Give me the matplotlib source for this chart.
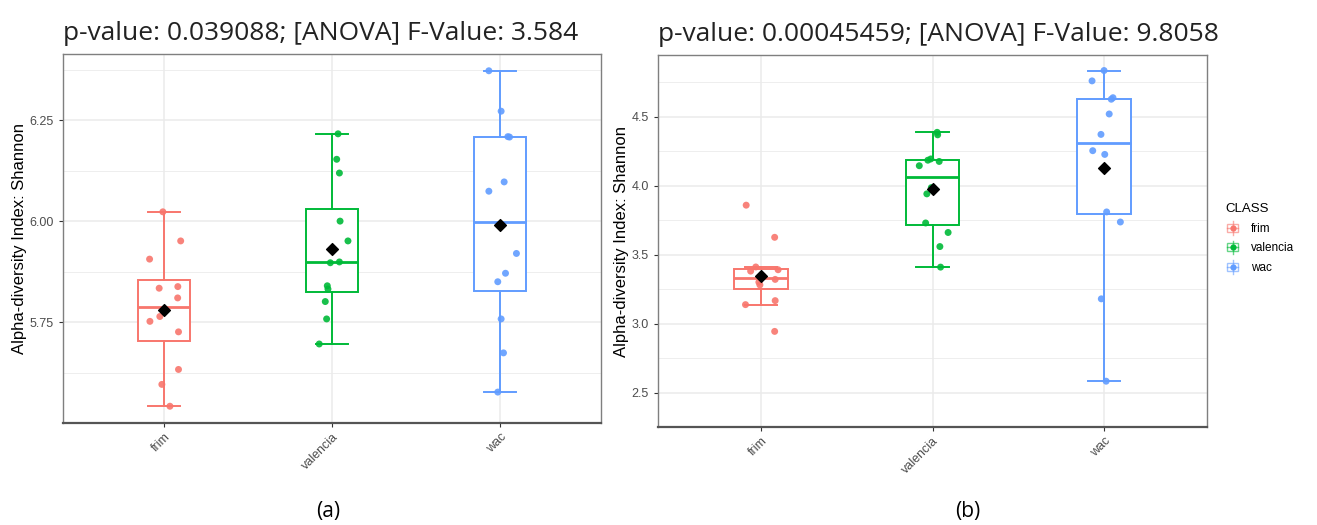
import numpy as np
import matplotlib
matplotlib.use("Agg")
import matplotlib.pyplot as plt
from matplotlib.patches import Rectangle
from matplotlib.lines import Line2D
from matplotlib.legend_handler import HandlerBase

plt.rcParams['font.family'] = ['Liberation Sans', 'DejaVu Sans']

# ---------------- data ----------------
categories = ["frim", "valencia", "wac"]
colors = ["#F8766D", "#00BA38", "#619CFF"]

# panel (a)
frim_a = [6.023, 5.951, 5.906, 5.834, 5.838, 5.810, 5.764, 5.752, 5.726, 5.633, 5.596, 5.542]
valencia_a = [6.216, 6.153, 6.119, 6.000, 5.951, 5.897, 5.899, 5.840, 5.832, 5.801, 5.758, 5.696]
wac_a = [6.372, 6.272, 6.209, 6.208, 6.097, 6.074, 5.920, 5.871, 5.850, 5.758, 5.674, 5.577]

# panel (b)
frim_b = [3.858, 3.625, 3.410, 3.390, 3.380, 3.345, 3.320, 3.300, 3.280, 3.166, 3.137, 2.943]
valencia_b = [4.386, 4.368, 4.193, 4.184, 4.175, 4.144, 3.985, 3.940, 3.729, 3.660, 3.558, 3.409]
wac_b = [4.834, 4.759, 4.637, 4.626, 4.519, 4.371, 4.253, 4.226, 3.809, 3.736, 3.179, 2.582]

# horizontal jitter of the points (category units)
jit_frim_a = [-0.006, 0.10, -0.085, -0.028, 0.083, 0.082, -0.024, -0.083, 0.087, 0.087, -0.012, 0.036]
jit_valencia_a = [0.036, 0.028, 0.044, 0.048, 0.095, -0.01, 0.044, -0.028, -0.024, -0.04, -0.032, -0.076]
jit_wac_a = [-0.067, 0.006, 0.046, 0.056, 0.024, -0.067, 0.097, 0.032, -0.014, 0.006, 0.02, -0.014]
jit_frim_b = [-0.086, 0.08, -0.03, 0.1, -0.06, 0.01, 0.083, -0.012, -0.006, 0.083, -0.09, 0.08]
jit_valencia_b = [0.027, 0.03, -0.01, -0.027, 0.039, -0.077, -0.007, -0.033, -0.04, 0.091, 0.043, 0.047]
jit_wac_b = [0.0, -0.07, 0.052, 0.042, 0.03, -0.018, -0.066, 0.004, 0.015, 0.095, -0.016, 0.012]

title_a = "p-value: 0.039088; [ANOVA] F-Value: 3.584"
title_b = "p-value: 0.00045459; [ANOVA] F-Value: 9.8058"
ylabel = "Alpha-diversity Index: Shannon"
yticks_a = [5.75, 6.00, 6.25]
yticks_b = [2.5, 3.0, 3.5, 4.0, 4.5]
legend_title = "CLASS"

W, H = 1317, 525
fig = plt.figure(figsize=(W / 100, H / 100), dpi=100)

ax_a = fig.add_axes([63 / W, 1 - 423 / H, 538 / W, 369 / H])
ax_b = fig.add_axes([658 / W, 1 - 427 / H, 549 / W, 372 / H])

GRID = "#EBEBEB"
TXT = "#4D4D4D"


def draw_panel(ax, groups, jitters, yticks, fmt, title):
    allv = np.concatenate([np.asarray(g) for g in groups])
    lo, hi = allv.min(), allv.max()
    pad = 0.05 * (hi - lo)

    for i, (g, j, c) in enumerate(zip(groups, jitters, colors)):
        pos = i + 1
        ax.boxplot([g], positions=[pos], widths=0.31, showfliers=False,
                   capwidths=0.19, patch_artist=True,
                   boxprops=dict(facecolor="white", edgecolor=c, linewidth=1.4),
                   medianprops=dict(color=c, linewidth=2.0),
                   whiskerprops=dict(color=c, linewidth=1.4),
                   capprops=dict(color=c, linewidth=1.4), zorder=2)
        ax.scatter(pos + np.asarray(j), g, s=25, color=c, edgecolors="none",
                   alpha=0.9, zorder=3)
        ax.scatter([pos], [np.mean(g)], marker="D", s=36, color="black", zorder=4)

    ax.set_ylim(lo - pad, hi + pad)
    ax.set_xlim(0.4, 3.6)
    ax.set_yticks(yticks)
    ax.set_yticklabels([fmt.format(t) for t in yticks])
    step = yticks[1] - yticks[0]
    minor = [t + step / 2 for t in [yticks[0] - step] + list(yticks)]
    ax.set_yticks(minor, minor=True)
    ax.set_xticks([1, 2, 3])
    ax.set_xticklabels(categories, rotation=45, ha="right", rotation_mode="anchor")
    ax.tick_params(axis="both", which="major", labelsize=9, labelcolor=TXT,
                   color="#333333", length=3, width=0.8)
    ax.tick_params(axis="x", which="major", pad=3)
    ax.tick_params(axis="y", which="minor", length=0)
    ax.grid(True, which="major", color=GRID, linewidth=1.1)
    ax.grid(True, which="minor", axis="y", color=GRID, linewidth=0.6)
    ax.set_axisbelow(True)
    for s in ax.spines.values():
        s.set_color("#7F7F7F")
        s.set_linewidth(1.0)
    ax.spines["bottom"].set_color("#555555")
    ax.spines["bottom"].set_linewidth(1.6)

    ax.set_ylabel(ylabel, fontsize=12, color="black", labelpad=2)
    ax.set_title(title, fontsize=19, loc="left", pad=10, x=0.0,
                 fontfamily=["Open Sans", "DejaVu Sans"], color="#222222")


draw_panel(ax_a, [frim_a, valencia_a, wac_a],
           [jit_frim_a, jit_valencia_a, jit_wac_a], yticks_a, "{:.2f}", title_a)
draw_panel(ax_b, [frim_b, valencia_b, wac_b],
           [jit_frim_b, jit_valencia_b, jit_wac_b], yticks_b, "{:.1f}", title_b)


class BoxHandler(HandlerBase):
    def create_artists(self, legend, orig_handle, xdescent, ydescent,
                       width, height, fontsize, trans):
        c = orig_handle.get_color()
        cx = -xdescent + width / 2
        cy = -ydescent + height / 2
        bw, bh = width * 0.75, height * 0.6
        rect = Rectangle((cx - bw / 2, cy - bh / 2), bw, bh, facecolor="white",
                         edgecolor=c, linewidth=1.0, transform=trans, alpha=0.6)
        vline = Line2D([cx, cx], [cy - height * 0.5, cy + height * 0.5], color=c,
                       linewidth=1.0, transform=trans, alpha=0.6)
        hline = Line2D([cx - bw / 2, cx + bw / 2], [cy, cy], color=c,
                       linewidth=1.0, transform=trans, alpha=0.6)
        dot = Line2D([cx], [cy], marker="o", markersize=3.5, color=c,
                     linestyle="none", transform=trans)
        return [rect, vline, hline, dot]


handles = [Line2D([], [], color=c) for c in colors]
leg = fig.legend(handles, categories, title=legend_title,
                 handler_map={Line2D: BoxHandler()},
                 loc="upper left", bbox_to_anchor=(1225 / W, 1 - 203 / H),
                 frameon=False, fontsize=8.5, title_fontsize=9.5,
                 handlelength=1.3, handleheight=1.4, handletextpad=0.9,
                 labelspacing=0.5, borderaxespad=0, borderpad=0)
leg._legend_box.align = "left"

fig.text(328 / W, 1 - 512 / H, "(a)", ha="center", va="center", fontsize=15,
         fontfamily=["Open Sans", "DejaVu Sans"])
fig.text(968 / W, 1 - 512 / H, "(b)", ha="center", va="center", fontsize=15,
         fontfamily=["Open Sans", "DejaVu Sans"])

fig.savefig("out.png", dpi=100)
